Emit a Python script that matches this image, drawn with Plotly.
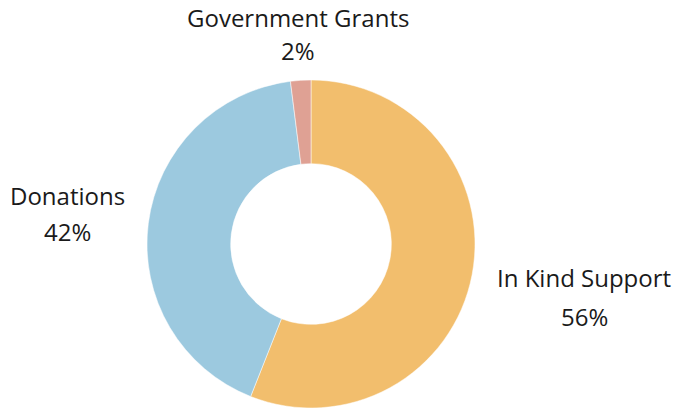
import plotly.graph_objects as go

categories = ["In Kind Support", "Donations", "Government Grants"]
values = [56, 42, 2]
colors = ["#F2BE6D", "#9CC9DF", "#DFA194"]

# label anchor positions (paper coords) for name and percent lines
label_x = [0.857, 0.099, 0.437]
name_y = [0.322, 0.523, 0.956]
pct_y = [0.227, 0.433, 0.876]

fig = go.Figure()
fig.add_trace(go.Pie(
    labels=categories, values=values, sort=False, direction="clockwise",
    rotation=0, hole=0.49,
    marker=dict(colors=colors, line=dict(color="white", width=0.5)),
    textinfo="none", hoverinfo="label+percent", showlegend=False,
    domain=dict(x=[(311 - 164) / 682, (311 + 164) / 682], y=[1 / 409, 329 / 409]),
))

total = sum(values)
font = dict(family="Open Sans, Lato, sans-serif", size=24, color="#1a1a1a")
for cat, v, x, ny, py in zip(categories, values, label_x, name_y, pct_y):
    fig.add_annotation(x=x, y=ny, xref="paper", yref="paper", text=cat,
                       showarrow=False, font=font, xanchor="center", yanchor="middle")
    fig.add_annotation(x=x, y=py, xref="paper", yref="paper",
                       text=f"{round(100 * v / total)}%",
                       showarrow=False, font=font, xanchor="center", yanchor="middle")

fig.update_layout(width=682, height=409, margin=dict(l=0, r=0, t=0, b=0),
                  paper_bgcolor="white", plot_bgcolor="white")
fig.write_html("out.html", config={"displayModeBar": False},
               post_script="document.body.style.margin='0px';")
